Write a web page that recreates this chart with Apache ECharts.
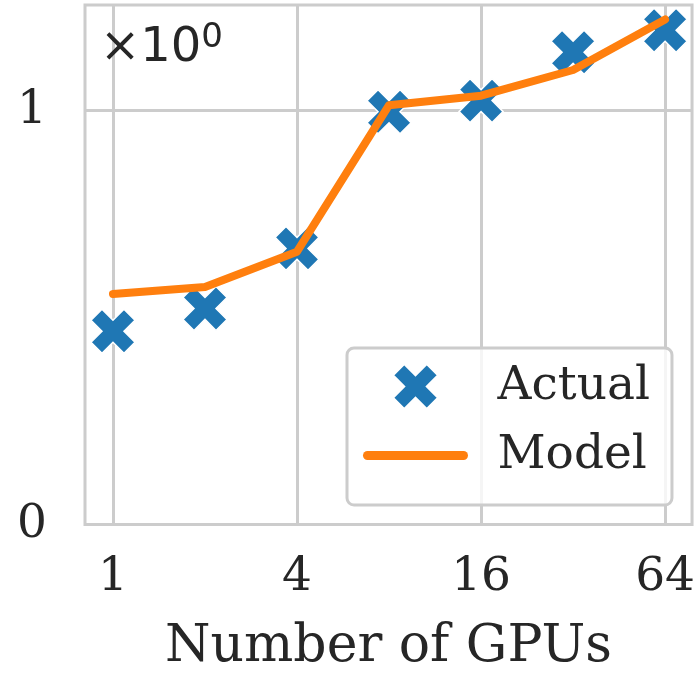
<!DOCTYPE html>
<html><head><meta charset="utf-8">
<script src="https://cdn.jsdelivr.net/npm/echarts@6/dist/echarts.min.js"></script>
<style>html,body{margin:0;padding:0;background:#fff}#c{width:698px;height:688px}</style>
</head><body><div id="c"></div>
<script>
const gpus = [1, 2, 4, 8, 16, 32, 64];
const actual = [0.467, 0.522, 0.667, 0.997, 1.024, 1.141, 1.194];
const model = [0.557, 0.574, 0.659, 1.013, 1.036, 1.098, 1.220];
const xTicks = [1, 4, 16, 64];
const yTicks = [0, 1];
const xRange = [0.81, 78.4];
const yRange = [0, 1.255];
const seriesNames = ['Actual', 'Model'];
const xTitle = 'Number of GPUs';

const TXT = '#262626';
const GRID = '#cccccc';
const SERIF = 'DejaVu Serif';
const BLUE = '#1f77b4';
const ORANGE = '#ff7f0e';
const xMark = 'path://M1,0 L2,1 L3,0 L4,1 L3,2 L4,3 L3,4 L2,3 L1,4 L0,3 L1,2 L0,1 Z';

const chart = echarts.init(document.getElementById('c'), null, {renderer: 'canvas'});
chart.setOption({
  animation: false,
  backgroundColor: '#ffffff',
  title: {
    text: '{a|×10}{b|0}',
    left: 100, top: 21, padding: 0,
    textStyle: {
      fontWeight: 'normal',
      rich: {
        a: {fontFamily: 'DejaVu Sans', fontWeight: 'normal', fontSize: 48, lineHeight: 52, color: TXT, verticalAlign: 'bottom'},
        b: {fontFamily: 'DejaVu Sans', fontWeight: 'normal', fontSize: 34, lineHeight: 30, color: TXT, verticalAlign: 'top'}
      }
    }
  },
  grid: {
    left: 85, right: 4.5, top: 5, bottom: 163.5,
    show: true, borderColor: GRID, borderWidth: 3, backgroundColor: 'transparent'
  },
  legend: {
    orient: 'vertical', left: 347, top: 348,
    padding: [15, 22, 26, 16],
    itemWidth: 96, itemHeight: 45, itemGap: 22,
    backgroundColor: 'rgba(255,255,255,0.8)', borderColor: GRID, borderWidth: 3, borderRadius: 7,
    formatter: n => '{t|' + n + '}',
    textStyle: {
      fontFamily: SERIF, fontSize: 47, color: TXT,
      rich: {t: {fontFamily: SERIF, fontSize: 47, color: TXT, padding: [0, 0, 0, 29]}}
    },
    data: [
      {name: seriesNames[0]},
      {name: seriesNames[1], itemStyle: {opacity: 0}, lineStyle: {width: 9, cap: 'round', color: ORANGE}}
    ]
  },
  xAxis: {
    type: 'value',
    min: Math.log2(xRange[0]), max: Math.log2(xRange[1]),
    name: xTitle, nameLocation: 'middle', nameGap: 97,
    nameTextStyle: {fontFamily: SERIF, fontSize: 52, color: TXT},
    axisLine: {show: false},
    axisTick: {show: false, customValues: xTicks.map(v => Math.log2(v))},
    axisLabel: {
      customValues: xTicks.map(v => Math.log2(v)),
      formatter: v => String(Math.round(Math.pow(2, v))),
      fontFamily: SERIF, fontSize: 47, color: TXT, margin: 30
    },
    splitLine: {show: true, lineStyle: {color: GRID, width: 3}}
  },
  yAxis: {
    type: 'value',
    min: yRange[0], max: yRange[1],
    axisLine: {show: false},
    axisTick: {show: false, customValues: yTicks},
    axisLabel: {
      customValues: yTicks,
      formatter: v => String(v),
      fontFamily: SERIF, fontSize: 47, color: TXT, margin: 38
    },
    splitLine: {show: true, lineStyle: {color: GRID, width: 3}}
  },
  series: [
    {
      name: seriesNames[0], type: 'scatter', z: 2,
      symbol: xMark, symbolSize: 44, symbolKeepAspect: true,
      itemStyle: {color: BLUE, borderColor: '#ffffff', borderWidth: 1.5, opacity: 1},
      data: gpus.map((g, i) => [Math.log2(g), actual[i]])
    },
    {
      name: seriesNames[1], type: 'line', z: 3,
      symbol: 'none', showSymbol: false,
      lineStyle: {color: ORANGE, width: 8, cap: 'round', join: 'round'},
      itemStyle: {color: ORANGE},
      data: gpus.map((g, i) => [Math.log2(g), model[i]])
    }
  ]
});
</script></body></html>
